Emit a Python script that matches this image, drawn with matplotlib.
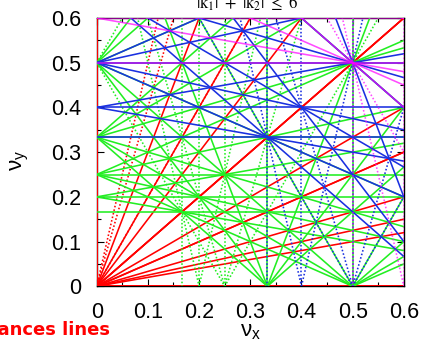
import numpy as np
import matplotlib
matplotlib.use('Agg')
import matplotlib.pyplot as plt

plt.rcParams['font.family'] = ['Liberation Sans', 'DejaVu Sans']
plt.rcParams['mathtext.fontset'] = 'custom'
plt.rcParams['mathtext.rm'] = 'Liberation Sans'
plt.rcParams['mathtext.it'] = 'Liberation Sans'

# resonance coefficients (k1, k2) with |k1| + |k2| <= 6, one sign of each pair
k1_list = [1, 0,
           2, 1, 1, 0,
           3, 2, 2, 1, 1, 0,
           4, 3, 3, 2, 2, 1, 1, 0,
           5, 4, 4, 3, 3, 2, 2, 1, 1, 0,
           6, 5, 5, 4, 4, 3, 3, 2, 2, 1, 1, 0]
k2_list = [0, 1,
           0, 1, -1, 2,
           0, 1, -1, 2, -2, 3,
           0, 1, -1, 2, -2, 3, -3, 4,
           0, 1, -1, 2, -2, 3, -3, 4, -4, 5,
           0, 1, -1, 2, -2, 3, -3, 4, -4, 5, -5, 6]
nu_max = 0.6
ticks = [0, 0.1, 0.2, 0.3, 0.4, 0.5, 0.6]
tick_labels = ['0', '0.1', '0.2', '0.3', '0.4', '0.5', '0.6']

# colour by |p|
p_colors = {0: '#ff0000', 1: '#22ee22', 2: '#1a30e0', 3: '#ff00ff'}
p_alpha = {0: 1.0, 1: 1.0, 2: 1.0, 3: 0.7}

lines = []
for k1, k2 in zip(k1_list, k2_list):
    c = [0, k1 * nu_max, k2 * nu_max, (k1 + k2) * nu_max]
    for p in range(int(np.ceil(min(c) - 1e-9)), int(np.floor(max(c) + 1e-9)) + 1):
        lines.append((abs(p), k1, k2, p))
lines.sort(key=lambda t: t[0])

fig = plt.figure(figsize=(4.26, 3.46), dpi=100)
ax = fig.add_axes([0.227, 0.1725, 0.721, 0.7755])

for ap, k1, k2, p in lines:
    if k2 != 0:
        x = np.array([-0.1, 0.7])
        y = (p - k1 * x) / k2
    else:
        x = np.array([p / k1, p / k1])
        y = np.array([-0.1, 0.7])
    ls = (0, (1, 1.3)) if abs(k1) >= 4 else '-'
    ax.plot(x, y, color=p_colors[ap], alpha=p_alpha[ap], lw=1.15, ls=ls,
            zorder=3)

ax.set_xlim(0, nu_max)
ax.set_ylim(0, nu_max)
ax.set_xticks(ticks)
ax.set_xticklabels(tick_labels)
ax.set_yticks(ticks)
ax.set_yticklabels(tick_labels)
ax.set_xticks(np.array(ticks[:-1]) + 0.05, minor=True)
ax.set_yticks(np.array(ticks[:-1]) + 0.05, minor=True)
ax.tick_params(which='both', direction='in', top=True, right=True, width=0.8,
               labelsize=15.5)
ax.tick_params(which='major', length=5, pad=11)
ax.tick_params(which='minor', length=3)
for s in ax.spines.values():
    s.set_linewidth(1.0)

ax.set_xlabel(r'$\nu_x$', fontsize=16)
ax.xaxis.set_label_coords(0.5, -0.13)
ax.set_ylabel(r'$\nu_y$', fontsize=16)
ax.yaxis.set_label_coords(-0.215, 0.47)

fig.text(0.579, 1 - 9 / 346, r'$|\mathrm{k}_1|\ +\ |\mathrm{k}_2|\ \leq\ 6$',
         ha='center', va='baseline', fontsize=12, math_fontfamily='stix')
fig.text(110 / 426, 1 - 335 / 346, 'Resonances lines', color='red',
         fontweight='bold', ha='right', va='baseline', fontsize=13,
         family='DejaVu Sans')

fig.savefig('out.png', dpi=100)
